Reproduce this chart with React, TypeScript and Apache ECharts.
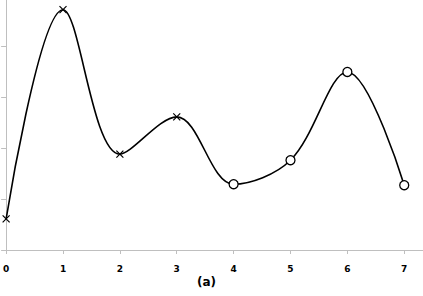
import React, { useEffect, useRef } from "react";
import * as echarts from "echarts";

const xValues = [0, 1, 2, 3, 4, 5, 6, 7];
const yValues = [0.61, 4.71, 1.88, 2.61, 1.29, 1.76, 3.49, 1.27];
const markerKinds = ["cross", "cross", "cross", "cross", "circle", "circle", "circle", "circle"];
const xTickValues = [0, 1, 2, 3, 4, 5, 6, 7];
const yTickValues = [0, 1, 2, 3, 4];
const caption = "(a)";

const CROSS = "path://M0,0L10,10M10,0L0,10";

export default function App() {
  const ref = useRef<HTMLDivElement>(null);
  useEffect(() => {
    if (!ref.current) return;
    const chart = echarts.init(ref.current, null, { renderer: "svg" });
    const data = xValues.map((x, i) => {
      const kind = markerKinds[i];
      if (kind === "cross") {
        return {
          value: [x, yValues[i]],
          symbol: CROSS,
          symbolSize: 7,
          itemStyle: { color: "none", borderColor: "#000", borderWidth: 1.2 },
        };
      }
      return {
        value: [x, yValues[i]],
        symbol: "circle",
        symbolSize: 9,
        itemStyle: { color: "#fff", borderColor: "#000", borderWidth: 1.3 },
      };
    });
    chart.setOption({
      animation: false,
      grid: { left: 6, right: 0, top: 0, bottom: 46, containLabel: false },
      xAxis: {
        type: "value",
        min: 0,
        max: 7.33,
        interval: 1,
        splitLine: { show: false },
        axisLine: { show: true, lineStyle: { color: "#bfbfbf", width: 1 } },
        axisTick: { show: true, length: 4, customValues: xTickValues, lineStyle: { color: "#bfbfbf" } },
        axisLabel: {
          customValues: xTickValues,
          margin: 14,
          color: "#000",
          fontSize: 9,
          fontWeight: "bold",
          fontFamily: "DejaVu Sans",
        },
      },
      yAxis: {
        type: "value",
        min: 0,
        max: 4.9,
        interval: 1,
        splitLine: { show: false },
        axisLine: { show: true, lineStyle: { color: "#bfbfbf", width: 1 } },
        axisTick: { show: true, length: 5, customValues: yTickValues, lineStyle: { color: "#bfbfbf" } },
        axisLabel: { show: false },
      },
      graphic: [
        {
          type: "text",
          left: 197,
          top: 276,
          style: {
            text: caption,
            fontSize: 12,
            fontWeight: "bold",
            fontFamily: "DejaVu Sans",
            fill: "#000",
          },
        },
      ],
      series: [
        {
          type: "line",
          data,
          smooth: 0.35,
          showAllSymbol: true,
          lineStyle: { color: "#000", width: 1.6 },
          z: 2,
        },
      ],
    });
    return () => chart.dispose();
  }, []);
  return (
    <div
      ref={ref}
      style={{ position: "fixed", left: 0, top: 0, width: 423, height: 296, background: "#fff" }}
    />
  );
}
